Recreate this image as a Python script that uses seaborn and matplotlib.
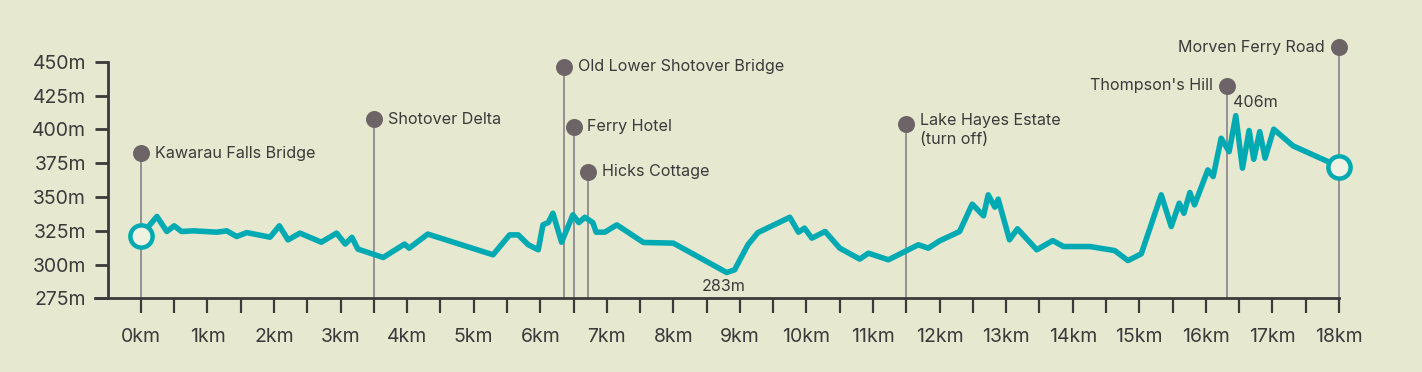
import pandas as pd
import seaborn as sns
import matplotlib.pyplot as plt
from matplotlib.ticker import FixedLocator, FuncFormatter

# Elevation profile (km along the trail, metres)
dist_km = [0, 0.24, 0.39, 0.50, 0.61, 0.79, 1.14, 1.29, 1.44, 1.59,
           1.94, 2.08, 2.21, 2.39, 2.71, 2.94, 3.07, 3.17, 3.26, 3.64,
           3.96, 4.03, 4.31, 5.29, 5.54, 5.67, 5.82, 5.97, 6.04, 6.12,
           6.19, 6.32, 6.49, 6.58, 6.67, 6.79, 6.84, 6.97, 7.15, 7.55,
           8.00, 8.80, 8.92, 9.12, 9.27, 9.75, 9.88, 9.97, 10.08, 10.28,
           10.50, 10.80, 10.93, 11.23, 11.68, 11.83, 12.00, 12.30, 12.49, 12.66,
           12.73, 12.83, 12.88, 13.05, 13.17, 13.46, 13.70, 13.86, 14.26, 14.63,
           14.83, 15.03, 15.33, 15.48, 15.60, 15.67, 15.76, 15.83, 16.03, 16.11,
           16.23, 16.35, 16.45, 16.55, 16.65, 16.72, 16.81, 16.89, 17.02, 17.31, 18.00]
elev_m = [321.5, 335.6, 324.5, 328.7, 324.5, 325, 324, 325, 320.8, 323.7,
          320.3, 328.7, 318.3, 323.3, 316.6, 323.3, 315.2, 320.2, 311.5, 305.3,
          315.2, 312.2, 322.6, 307.3, 322, 322, 314.7, 311, 329.4, 331.1,
          338, 316.6, 336.8, 331.1, 335, 331.1, 324, 324, 329.4, 316.4,
          315.9, 294.2, 296.2, 314.7, 323.7, 335, 324, 327, 319.6, 324.5,
          312.2, 304.1, 308.5, 303.6, 314.7, 312.2, 317.6, 324.5, 344.7, 336.1,
          351.6, 342.5, 348.4, 318.4, 326.5, 311, 317.8, 313.4, 313.4, 310.4,
          303, 308, 351.6, 328.2, 345.4, 338, 353.3, 344.2, 370, 365.1,
          393.4, 383.5, 410.1, 371.3, 399.1, 377.9, 398.3, 378.7, 400.1, 387.8, 372.5]

# Points of interest along the trail
stop_names = ["Kawarau Falls Bridge", "Shotover Delta", "Old Lower Shotover Bridge",
              "Ferry Hotel", "Hicks Cottage", "Lake Hayes Estate\n(turn off)",
              "Thompson's Hill", "Morven Ferry Road"]
stop_km = [0, 3.5, 6.36, 6.5, 6.72, 11.5, 16.32, 18.0]
stop_pin_m = [382.4, 407.5, 446.3, 402, 368.8, 403.8, 432.3, 460.6]

low_label = "283m"
high_label = "406m"

y_ticks = [275, 300, 325, 350, 375, 400, 425, 450]
x_ticks = list(range(0, 19))

bg = "#e6e8d0"
teal = "#00aab3"
ink = "#3b3b3b"
pin = "#6d6467"
stem = "#8c8c8c"

sns.set_theme(style="white")
plt.rcParams['font.family'] = ['Inter', 'DejaVu Sans']

df = pd.DataFrame({"km": dist_km, "elev": elev_m})

fig = plt.figure(figsize=(14.22, 3.72), dpi=100, facecolor=bg)
ax = fig.add_axes([0.0668, 0.1976, 0.8748, 0.6366], facecolor=bg)

# stems + pins
ax.vlines(stop_km, y_ticks[0], stop_pin_m, color=stem, lw=1.3, zorder=2, clip_on=False)
ax.scatter(stop_km, stop_pin_m, s=150, color=pin, zorder=5, clip_on=False, linewidths=0)
lab_size = 11.6
for name, km, m in zip(stop_names, stop_km, stop_pin_m):
    if km > 16:
        ax.annotate(name, (km, m), xytext=(-10, 0), textcoords="offset points",
                    ha="right", va="center", fontsize=lab_size, color=ink, annotation_clip=False)
    elif "\n" in name:
        ax.annotate(name, (km, m), xytext=(10, 7.8), textcoords="offset points",
                    ha="left", va="top", fontsize=lab_size, color=ink, linespacing=1.3,
                    annotation_clip=False)
    else:
        ax.annotate(name, (km, m), xytext=(10, 0), textcoords="offset points",
                    ha="left", va="center", fontsize=lab_size, color=ink, annotation_clip=False)

# elevation line
sns.lineplot(data=df, x="km", y="elev", ax=ax, color=teal, lw=4, zorder=4,
             solid_joinstyle="round")
ax.plot([dist_km[0], dist_km[-1]], [elev_m[0], elev_m[-1]], "o", ms=16,
        mfc="#eff1e3", mec=teal, mew=3.2, zorder=6, clip_on=False)

# low / high notes
i_lo = elev_m.index(min(elev_m))
i_hi = elev_m.index(max(elev_m))
ax.annotate(low_label, (dist_km[i_lo], elev_m[i_lo]), xytext=(-2, -10),
            textcoords="offset points", ha="center", va="center", fontsize=lab_size, color=ink)
ax.annotate(high_label, (dist_km[i_hi], elev_m[i_hi]), xytext=(-2, 4),
            textcoords="offset points", ha="left", va="bottom", fontsize=lab_size, color=ink)

ax.set_xlim(-0.69, 18)
ax.set_ylim(275, 450)
ax.set_xlabel("")
ax.set_ylabel("")

ax.spines["top"].set_visible(False)
ax.spines["right"].set_visible(False)
ax.spines["left"].set_position(("data", -0.5))
ax.spines["left"].set_bounds(275, 450)
for s in ("left", "bottom"):
    ax.spines[s].set_color(ink)
    ax.spines[s].set_linewidth(2)

ax.set_yticks(y_ticks)
ax.yaxis.set_major_formatter(FuncFormatter(lambda v, p: f"{v:.0f}m"))
ax.set_xticks(x_ticks)
ax.xaxis.set_major_formatter(FuncFormatter(lambda v, p: f"{v:.0f}km"))
ax.xaxis.set_minor_locator(FixedLocator([k + 0.5 for k in x_ticks[:-1]]))
ax.tick_params(axis="y", which="major", direction="out", length=9.5, width=2,
               color=ink, labelcolor=ink, labelsize=14, pad=6, left=True)
ax.tick_params(axis="x", which="both", direction="out", length=10.5, width=1.6,
               color=ink, labelcolor=ink, labelsize=14, pad=11, bottom=True)

fig.savefig("out.png", dpi=100, facecolor=bg)
